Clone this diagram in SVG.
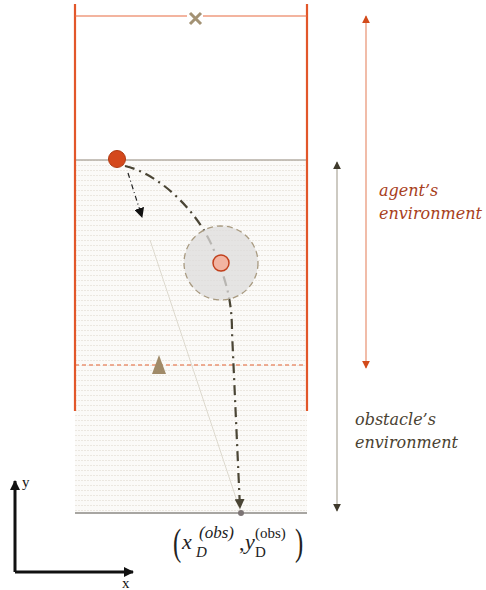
<svg xmlns="http://www.w3.org/2000/svg" width="486" height="590" viewBox="0 0 486 590">
  <style>
    .wall { stroke: #e2572a; stroke-width: 2.2; fill: none; }
    .lbl { font-family: "DejaVu Serif", "Liberation Serif", serif; font-style: italic; font-size: 16px; }
    .axis-lbl { font-family: "Liberation Serif", serif; font-size: 15px; fill: #111; }
    .math { font-family: "Liberation Serif", serif; fill: #222; }
    .traj { fill: none; stroke: #4a4535; stroke-width: 2.2; stroke-dasharray: 10 5 2 5; }
  </style>
  <defs>
    <pattern id="hatch" width="3" height="5" patternUnits="userSpaceOnUse">
      <rect width="3" height="5" fill="#fbfaf8"/>
      <rect x="0" y="0" width="2" height="1" fill="#ebe7e0"/>
    </pattern>
    <marker id="headRed" viewBox="0 0 10 10" refX="9" refY="5" markerWidth="8" markerHeight="8" orient="auto-start-reverse" markerUnits="userSpaceOnUse">
      <path d="M0,0 L10,5 L0,10 Z" fill="#d24a1a"/>
    </marker>
    <marker id="headDark" viewBox="0 0 10 10" refX="9" refY="5" markerWidth="8" markerHeight="8" orient="auto-start-reverse" markerUnits="userSpaceOnUse">
      <path d="M0,0 L10,5 L0,10 Z" fill="#3f3a2c"/>
    </marker>
    <marker id="headBlack" viewBox="0 0 10 10" refX="9" refY="5" markerWidth="10" markerHeight="10" orient="auto" markerUnits="userSpaceOnUse">
      <path d="M0,0 L10,5 L0,10 Z" fill="#111"/>
    </marker>
    <marker id="headTraj" viewBox="0 0 10 10" refX="9" refY="5" markerWidth="10" markerHeight="10" orient="auto" markerUnits="userSpaceOnUse">
      <path d="M0,0 L10,5 L0,10 Z" fill="#4a4535"/>
    </marker>
  </defs>

  <!-- shaded obstacle region -->
  <g id="obstacle-region">
    <rect x="75" y="160" width="232" height="353" fill="url(#hatch)"/>
    <line x1="75" y1="160" x2="307" y2="160" stroke="#b4aea4" stroke-width="1.5"/>
    <line x1="75" y1="513" x2="307" y2="513" stroke="#a8a6a2" stroke-width="2"/>
    <line x1="75" y1="365" x2="307" y2="365" stroke="#ea9272" stroke-width="1.3" stroke-dasharray="4 3"/>
  </g>

  <!-- agent corridor -->
  <g id="agent-corridor">
    <line class="wall" x1="75" y1="4" x2="75" y2="411"/>
    <line class="wall" x1="307" y1="4" x2="307" y2="411"/>
    <line x1="75" y1="16" x2="307" y2="16" stroke="#e86a40" stroke-width="1.2"/>
  </g>

  <!-- goal marker -->
  <g id="goal">
    <rect x="187" y="12" width="16" height="12" fill="#ffffff"/>
    <path d="M190,13 L201,24 M201,13 L190,24" stroke="#a39274" stroke-width="3"/>
  </g>

  <!-- start position marker -->
  <g id="start-marker">
    <polygon points="159,355 152,374 166,374" fill="#a08a68"/>
  </g>

  <g id="connectors">
    <line x1="150" y1="240" x2="240" y2="510" stroke="#ddd9ce" stroke-width="1"/>
    <path class="traj" d="M125,166 C160,174 198,212 213,248 C227,282 232,302 232,332 L240,508" marker-end="url(#headTraj)"/>
    <line x1="128" y1="173" x2="142" y2="217" stroke="#222" stroke-width="1.2" stroke-dasharray="5 3 1 3" marker-end="url(#headBlack)"/>
    <line x1="366" y1="16" x2="366" y2="368" stroke="#e89070" stroke-width="1.2" marker-start="url(#headRed)" marker-end="url(#headRed)"/>
    <line x1="337" y1="162" x2="337" y2="511" stroke="#b8b4a8" stroke-width="1.4" marker-start="url(#headDark)" marker-end="url(#headDark)"/>
    <line x1="15" y1="572" x2="15" y2="481" stroke="#111" stroke-width="3" marker-end="url(#headBlack)"/>
    <line x1="15" y1="572" x2="133" y2="572" stroke="#111" stroke-width="3" marker-end="url(#headBlack)"/>
  </g>

  <!-- obstacle: translucent disc over the path -->
  <g id="obstacle">
    <circle cx="221" cy="263" r="37" fill="#dedcdc" fill-opacity="0.75" stroke="#a89a80" stroke-width="1.3" stroke-dasharray="6 4"/>
    <circle cx="221" cy="263" r="8" fill="#f2b4a2" stroke="#c2401c" stroke-width="1.5"/>
  </g>

  <!-- agent -->
  <g id="agent">
    <circle cx="117" cy="159" r="8.5" fill="#d4481c" stroke="#b03a12" stroke-width="1"/>
  </g>

  <!-- destination point -->
  <g id="destination">
    <circle cx="241" cy="513" r="3" fill="#7c7474"/>
  </g>

  <!-- labels -->
  <g id="agent-label">
    <text class="lbl" fill="#a8401c" x="379" y="196">agent’s</text>
    <text class="lbl" fill="#a8401c" x="379" y="219">environment</text>
  </g>
  <g id="obstacle-label">
    <text class="lbl" fill="#4a4232" x="355" y="425">obstacle’s</text>
    <text class="lbl" fill="#4a4232" x="355" y="448">environment</text>
  </g>
  <g id="axes-labels">
    <text class="axis-lbl" x="22" y="487">y</text>
    <text class="axis-lbl" x="122" y="588">x</text>
  </g>

  <!-- destination coordinates -->
  <g id="dest-coords">
    <text class="math" font-size="38" transform="translate(173,555) scale(0.65,1)">(</text>
    <text class="math" font-size="22" font-style="italic" x="182" y="549">x</text>
    <text class="math" font-size="15" font-style="italic" x="196" y="557">D</text>
    <text class="math" font-size="17" font-style="italic" x="199" y="538">(obs)</text>
    <text class="math" font-size="22" x="239" y="550">,</text>
    <text class="math" font-size="22" font-style="italic" x="245" y="549">y</text>
    <text class="math" font-size="15" x="255" y="557">D</text>
    <text class="math" font-size="15" x="255" y="538">(obs)</text>
    <text class="math" font-size="38" transform="translate(295,555) scale(0.65,1)">)</text>
  </g>
</svg>
